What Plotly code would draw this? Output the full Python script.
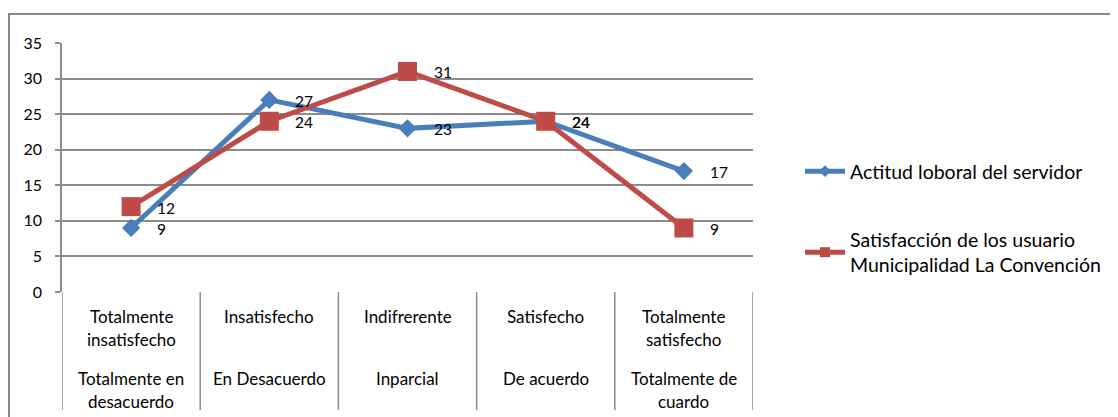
import plotly.graph_objects as go

# ---------------- data ----------------
categories_top = ["Totalmente\ninsatisfecho", "Insatisfecho", "Indifrerente", "Satisfecho", "Totalmente\nsatisfecho"]
categories_bottom = ["Totalmente en\ndesacuerdo", "En Desacuerdo", "Inparcial", "De acuerdo", "Totalmente de\ncuardo"]
series_names = ["Actitud loboral del servidor", "Satisfacción de los usuario<br>Municipalidad La Convención"]
actitud = [9, 27, 23, 24, 17]
satisfaccion = [12, 24, 31, 24, 9]
y_ticks = [0, 5, 10, 15, 20, 25, 30, 35]

# ---------------- style ----------------
FONT = "Lato"
BLUE = "#4A7EBB"
RED = "#BE4B48"
GRID = "#8C8C8C"
OFF = 8                      # page body margin
W, H = 1118 - OFF, 417 - OFF
PL, PR, PT, PB = 62 - OFF, 753 - OFF, 43 - OFF, 292 - OFF   # plot box in figure px
L, R, T, B = PL, W - PR, PT, H - PB
pw, ph = PR - PL, PB - PT

def px(sx):   # screenshot x -> paper
    return (sx - OFF - PL) / pw

def py(sy):   # screenshot y -> paper
    return (PB - (sy - OFF)) / ph

xs = list(range(len(categories_top)))

fig = go.Figure()
fig.add_trace(go.Scatter(x=xs, y=actitud, mode="lines+markers", showlegend=False,
                         line=dict(color=BLUE, width=5),
                         marker=dict(symbol="diamond", size=14, color=BLUE)))
fig.add_trace(go.Scatter(x=xs, y=satisfaccion, mode="lines+markers", showlegend=False,
                         line=dict(color=RED, width=5),
                         marker=dict(symbol="square", size=19, color=RED)))
# legend entries (smaller markers as in the original legend)
fig.add_trace(go.Scatter(x=[None], y=[None], mode="lines+markers", name=series_names[0],
                         legendgroup="a", line=dict(color=BLUE, width=5),
                         marker=dict(symbol="diamond", size=9, color=BLUE)))
fig.add_trace(go.Scatter(x=[None], y=[None], mode="lines+markers", name=series_names[1],
                         legendgroup="b", line=dict(color=RED, width=5),
                         marker=dict(symbol="square", size=10, color=RED)))

annotations = []
# data labels
for vals in (actitud, satisfaccion):
    for x, v in zip(xs, vals):
        annotations.append(dict(x=x, y=v, xref="x", yref="y", text=str(v), showarrow=False,
                                xanchor="left", yanchor="middle", xshift=24, yshift=-1,
                                font=dict(family=FONT, size=15.5, color="black")))

# category labels (two levels), one annotation per line
for rows, first_line in ((categories_top, 316), (categories_bottom, 378)):
    for x, lab in zip(xs, rows):
        for k, line in enumerate(lab.split("\n")):
            annotations.append(dict(x=x, y=py(first_line + 23 * k), xref="x", yref="paper",
                                    text=line, showarrow=False, xanchor="center", yanchor="middle",
                                    font=dict(family=FONT, size=17, color="black")))

shapes = []
# category dividers
for b in [i - 0.5 for i in range(len(xs) + 1)]:
    shapes.append(dict(type="line", xref="x", yref="paper", x0=b, x1=b, y0=0, y1=py(410),
                       line=dict(color=GRID, width=1.5)))
# outer chart frame
shapes.append(dict(type="rect", xref="paper", yref="paper",
                   x0=px(9), x1=px(1140), y0=py(440), y1=py(14),
                   line=dict(color="#878787", width=2), fillcolor="rgba(0,0,0,0)", layer="below"))

fig.update_layout(
    width=W, height=H,
    margin=dict(l=L, r=R, t=T, b=B, pad=0),
    paper_bgcolor="white", plot_bgcolor="white",
    font=dict(family=FONT, size=15, color="black"),
    xaxis=dict(range=[-0.5, len(xs) - 0.5], showticklabels=False, showgrid=False,
               zeroline=False, showline=False, ticks=""),
    yaxis=dict(range=[0, 35], tickvals=y_ticks, showgrid=True, gridcolor=GRID, gridwidth=1.5,
               zeroline=False, showline=True, linecolor=GRID, linewidth=1.5,
               ticks="outside", ticklen=5, tickcolor=GRID, tickwidth=1.5,
               ticklabelstandoff=10, tickfont=dict(family=FONT, size=16, color="black")),
    legend=dict(x=px(800), y=py(152), xanchor="left", yanchor="top",
                font=dict(family=FONT, size=19.5, color="black"),
                tracegroupgap=40, itemwidth=40, bgcolor="rgba(0,0,0,0)"),
    annotations=annotations,
    shapes=shapes,
)

fig.write_html("out.html")
